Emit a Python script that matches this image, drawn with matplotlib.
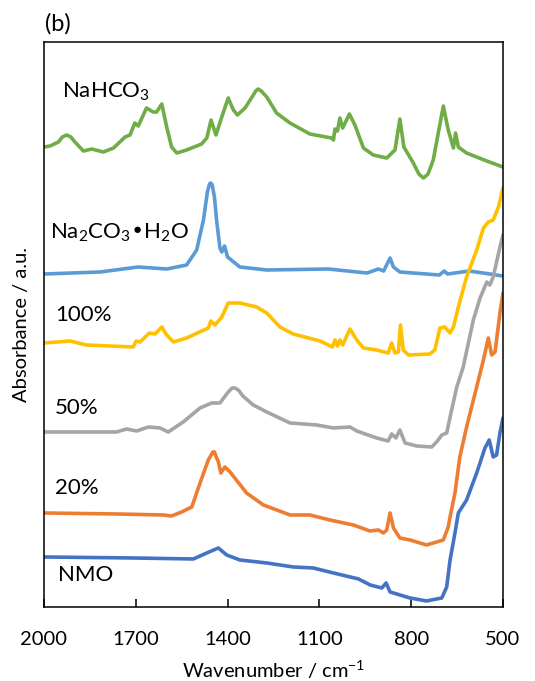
import matplotlib
matplotlib.use("Agg")
import matplotlib.pyplot as plt

plt.rcParams['font.family'] = ['Lato', 'DejaVu Sans']
plt.rcParams['mathtext.default'] = 'regular'

# wavenumber (cm-1) / absorbance (a.u., offset as stacked in the figure)
nahco3_w = [2000, 1980, 1953, 1940, 1926, 1912, 1899, 1871, 1844, 1806, 1773, 1735, 1719,
            1703, 1692, 1665, 1643, 1632, 1615, 1599, 1583, 1566, 1534, 1485, 1468, 1454,
            1438, 1419, 1398, 1381, 1368, 1343, 1316, 1308, 1300, 1290, 1272, 1240, 1196,
            1131, 1060, 1054, 1049, 1041, 1033, 1024, 1002, 984, 956, 924, 880, 853, 837,
            824, 793, 775, 760, 745, 728, 695, 679, 662, 655, 646, 619, 553, 500]
nahco3_a = [4.60, 4.61, 4.65, 4.70, 4.72, 4.70, 4.65, 4.56, 4.58, 4.55, 4.59, 4.70, 4.72,
            4.84, 4.81, 4.99, 4.95, 4.95, 5.03, 4.80, 4.60, 4.54, 4.57, 4.63, 4.69, 4.87,
            4.72, 4.90, 5.09, 4.97, 4.92, 4.99, 5.12, 5.16, 5.18, 5.16, 5.10, 4.94, 4.84,
            4.73, 4.69, 4.67, 4.78, 4.76, 4.89, 4.79, 4.93, 4.82, 4.59, 4.52, 4.49, 4.57,
            4.88, 4.60, 4.44, 4.33, 4.29, 4.33, 4.47, 5.01, 4.77, 4.59, 4.74, 4.60, 4.54,
            4.46, 4.40]

na2co3_w = [2000, 1817, 1692, 1599, 1534, 1501, 1479, 1466, 1459, 1455, 1450, 1443, 1436,
            1425, 1419, 1410, 1400, 1360, 1272, 1071, 945, 907, 890, 869, 858, 837, 708,
            692, 681, 610, 543, 500]
na2co3_a = [3.33, 3.35, 3.40, 3.38, 3.42, 3.57, 3.87, 4.15, 4.23, 4.24, 4.22, 4.10, 3.87,
            3.59, 3.55, 3.61, 3.50, 3.40, 3.37, 3.38, 3.34, 3.38, 3.36, 3.49, 3.40, 3.35,
            3.32, 3.36, 3.33, 3.36, 3.33, 3.31]

p100_w = [2000, 1915, 1861, 1708, 1699, 1686, 1656, 1637, 1615, 1599, 1577, 1534, 1463,
          1455, 1441, 1419, 1398, 1360, 1305, 1272, 1229, 1185, 1098, 1057, 1049, 1041,
          1033, 1024, 1000, 978, 956, 913, 875, 864, 853, 842, 835, 826, 809, 739, 723,
          706, 690, 673, 662, 646, 619, 586, 564, 548, 532, 515, 500]
p100_a = [2.64, 2.66, 2.62, 2.60, 2.66, 2.65, 2.74, 2.73, 2.80, 2.72, 2.65, 2.69, 2.79,
          2.86, 2.82, 2.90, 3.04, 3.04, 3.00, 2.94, 2.80, 2.73, 2.66, 2.60, 2.67, 2.61,
          2.67, 2.62, 2.78, 2.67, 2.59, 2.57, 2.54, 2.64, 2.54, 2.55, 2.82, 2.57, 2.52,
          2.53, 2.57, 2.79, 2.80, 2.74, 2.80, 3.00, 3.30, 3.57, 3.79, 3.85, 3.87, 4.00, 4.19]

p50_w = [2000, 1763, 1730, 1697, 1659, 1621, 1594, 1545, 1490, 1452, 1425, 1398, 1385,
         1376, 1365, 1350, 1316, 1272, 1196, 1109, 1054, 1000, 978, 913, 875, 864, 850,
         837, 820, 782, 733, 717, 700, 684, 668, 651, 630, 597, 575, 553, 543, 532, 510, 500]
p50_a = [1.75, 1.75, 1.78, 1.76, 1.80, 1.79, 1.75, 1.85, 1.99, 2.04, 2.04, 2.15, 2.19,
         2.19, 2.17, 2.11, 2.02, 1.95, 1.84, 1.82, 1.79, 1.80, 1.76, 1.69, 1.66, 1.73,
         1.69, 1.77, 1.64, 1.61, 1.60, 1.65, 1.72, 1.74, 1.97, 2.20, 2.40, 2.87, 3.09,
         3.25, 3.22, 3.30, 3.60, 3.72]

p20_w = [2000, 1763, 1610, 1583, 1550, 1517, 1490, 1463, 1448, 1443, 1437, 1430, 1422,
         1409, 1392, 1338, 1283, 1196, 1131, 1066, 989, 935, 907, 891, 880, 869, 858, 837,
         804, 750, 695, 679, 673, 657, 641, 619, 591, 564, 548, 537, 526, 510, 500]
p20_a = [0.94, 0.93, 0.92, 0.91, 0.95, 1.00, 1.24, 1.47, 1.55, 1.55, 1.50, 1.45, 1.34,
         1.40, 1.35, 1.14, 1.02, 0.92, 0.92, 0.87, 0.82, 0.76, 0.77, 0.74, 0.77, 0.94,
         0.79, 0.69, 0.67, 0.62, 0.67, 0.80, 0.90, 1.14, 1.50, 1.80, 2.14, 2.47, 2.69,
         2.52, 2.55, 2.94, 3.14]

nmo_w = [2000, 1708, 1512, 1468, 1430, 1403, 1360, 1272, 1185, 1120, 1054, 972, 934, 896,
         882, 869, 804, 750, 700, 684, 673, 657, 646, 619, 586, 559, 545, 532, 521, 510, 500]
nmo_a = [0.50, 0.49, 0.48, 0.54, 0.59, 0.52, 0.47, 0.44, 0.40, 0.39, 0.34, 0.28, 0.22, 0.19,
         0.24, 0.15, 0.09, 0.06, 0.09, 0.20, 0.47, 0.74, 0.94, 1.07, 1.34, 1.59, 1.67, 1.50,
         1.52, 1.74, 1.89]

series = [
    (nahco3_w, nahco3_a, '#70AD47', 'NaHCO$_3$', 1941, 5.15),
    (na2co3_w, na2co3_a, '#5B9BD5', 'Na$_2$CO$_3$\u2022H$_2$O', 1980, 3.74),
    (p100_w, p100_a, '#FFC000', '100%', 1964, 2.92),
    (p50_w, p50_a, '#A5A5A5', '50%', 1964, 1.99),
    (p20_w, p20_a, '#ED7D31', '20%', 1964, 1.19),
    (nmo_w, nmo_a, '#4472C4', 'NMO', 1954, 0.32),
]

fig = plt.figure(figsize=(5.35, 6.81), dpi=100)
ax = fig.add_axes([0.0822, 0.1087, 0.858, 0.8296])

for w, a, c, name, tx, ty in series:
    ax.plot(w, a, color=c, lw=2.6, solid_joinstyle='round', solid_capstyle='round')
    ax.text(tx, ty, name, fontsize=16, va='center', ha='left')

ax.set_xlim(2000, 500)
ax.set_ylim(0, 5.65)
ax.set_xticks([2000, 1700, 1400, 1100, 800, 500])
ax.set_yticks([])
ax.tick_params(axis='x', direction='in', length=6, width=1.1, labelsize=14.5, pad=17)
for s in ax.spines.values():
    s.set_linewidth(1.1)

ax.set_xlabel('Wavenumber / cm$^{-1}$', fontsize=14.5, labelpad=8)
ax.set_ylabel('Absorbance / a.u.', fontsize=14.5, labelpad=10)
fig.text(0.084, 0.965, '(b)', fontsize=17, va='center', ha='left')

fig.savefig('out.png', dpi=100)
